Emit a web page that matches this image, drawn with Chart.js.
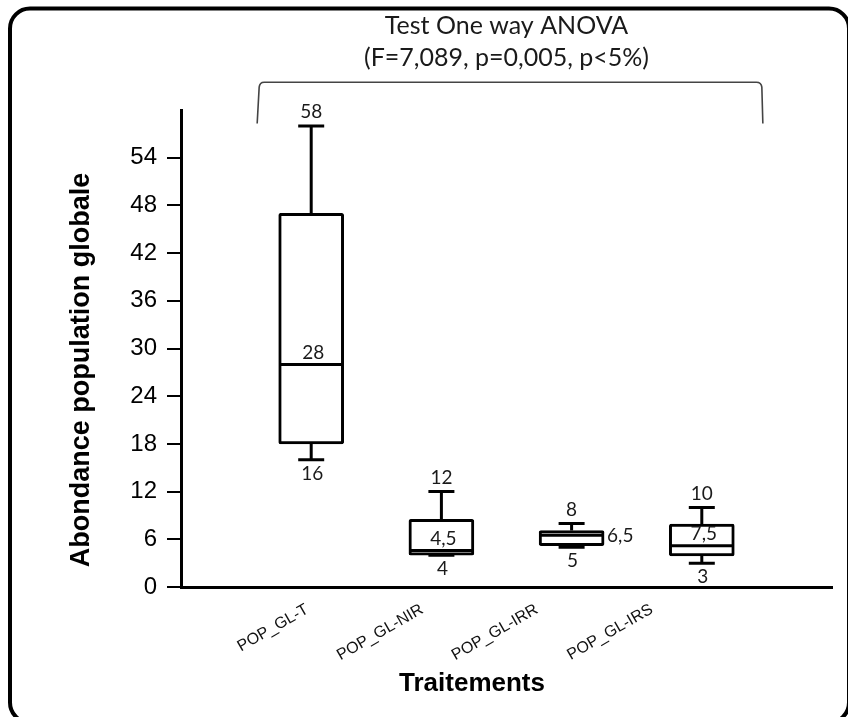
<!DOCTYPE html>
<html>
<head>
<meta charset="utf-8">
<style>
html,body{margin:0;padding:0;background:#fff;}
#wrap{width:848px;height:717px;position:relative;overflow:hidden;}
canvas{display:block;}
</style>
<script src="https://cdn.jsdelivr.net/npm/chart.js@4.4.1/dist/chart.umd.min.js"></script>
</head>
<body>
<div id="wrap"><canvas id="c" width="848" height="717"></canvas></div>
<script>
// ---- data ----
const categories = ['POP_GL-T', 'POP_GL-NIR', 'POP_GL-IRR', 'POP_GL-IRS'];
const minValues = [16, 4, 5, 3];
const q1Values = [18, 4, 5.2, 3.9];
const medianValues = [28, 4.6, 6.5, 5.2];
const q3Values = [47, 8.5, 7.1, 7.9];
const maxValues = [58, 12, 8, 10];
const maxLabels = ['58', '12', '8', '10'];
const medianLabels = ['28', '4,5', '6,5', '7,5'];
const minLabels = ['16', '4', '5', '3'];
const yTickValues = [0, 6, 12, 18, 24, 30, 36, 42, 48, 54];
const titleLines = ['Test One way ANOVA', '(F=7,089, p=0,005, p<5%)'];
const yAxisTitle = 'Abondance population globale';
const xAxisTitle = 'Traitements';

// ---- style ----
const medianLabelPlacement = ['above', 'above', 'right', 'above'];
const ARIAL = "'Liberation Sans', Arial, sans-serif";
const CALIBRI = "Lato, 'Open Sans', sans-serif";

const framePlugin = {
  id: 'frame',
  beforeDraw(chart) {
    const ctx = chart.ctx;
    ctx.save();
    ctx.fillStyle = '#fff';
    ctx.fillRect(0, 0, chart.width, chart.height);
    ctx.restore();
  },
  afterDraw(chart) {
    const ctx = chart.ctx;
    ctx.save();
    // rounded outer frame
    ctx.strokeStyle = '#000';
    ctx.lineWidth = 4;
    ctx.beginPath();
    ctx.roundRect(10, 8.5, 839, 714, 20);
    ctx.stroke();

    // bracket above the groups
    const xs = chart.scales.x, ys = chart.scales.y;
    const bl = xs.getPixelForValue(0.585), br = xs.getPixelForValue(4.465);
    const bt = ys.getPixelForValue(63.5), bb = ys.getPixelForValue(58.3);
    ctx.strokeStyle = '#444';
    ctx.lineWidth = 1.6;
    ctx.beginPath();
    ctx.moveTo(bl, bb);
    ctx.lineTo(bl + 2, bt + 5);
    ctx.quadraticCurveTo(bl + 2.5, bt, bl + 7, bt);
    ctx.lineTo(br - 6, bt);
    ctx.quadraticCurveTo(br - 1, bt, br - 0.5, bt + 5);
    ctx.lineTo(br + 0.5, bb);
    ctx.stroke();

    // axis titles
    ctx.fillStyle = '#000';
    ctx.font = "bold 27px " + ARIAL;
    ctx.textAlign = 'center';
    ctx.textBaseline = 'middle';
    ctx.save();
    ctx.translate(82, 370);
    ctx.rotate(-Math.PI / 2);
    ctx.fillText(yAxisTitle, 0, 0);
    ctx.restore();
    ctx.font = "bold 26px " + ARIAL;
    ctx.fillText(xAxisTitle, 472, 684);
    ctx.restore();
  }
};

const boxPlugin = {
  id: 'boxes',
  afterDatasetsDraw(chart) {
    const ctx = chart.ctx;
    const xs = chart.scales.x, ys = chart.scales.y;
    const cap = 13;
    ctx.save();
    ctx.strokeStyle = '#000';
    ctx.lineWidth = 3;
    ctx.lineCap = 'butt';
    categories.forEach((c, i) => {
      const cx = xs.getPixelForValue(i + 1);
      const pMax = ys.getPixelForValue(maxValues[i]);
      const pQ3 = ys.getPixelForValue(q3Values[i]);
      const pQ1 = ys.getPixelForValue(q1Values[i]);
      const pMin = ys.getPixelForValue(minValues[i]);
      const pMed = ys.getPixelForValue(medianValues[i]);
      ctx.beginPath();
      // upper whisker + cap
      ctx.moveTo(cx, pQ3); ctx.lineTo(cx, pMax);
      ctx.moveTo(cx - cap, pMax); ctx.lineTo(cx + cap, pMax);
      // lower whisker + cap
      if (pMin - pQ1 > 1) {
        ctx.moveTo(cx, pQ1); ctx.lineTo(cx, pMin);
      }
      ctx.moveTo(cx - cap, pMin); ctx.lineTo(cx + cap, pMin);
      ctx.stroke();
      // median
      const meta = chart.getDatasetMeta(0).data[i];
      const half = meta.width / 2 - 1.5;
      ctx.beginPath();
      ctx.moveTo(cx - half, pMed); ctx.lineTo(cx + half, pMed);
      ctx.stroke();

      // value labels
      ctx.fillStyle = '#1a1a1a';
      ctx.font = "19px " + CALIBRI;
      ctx.textAlign = 'center';
      ctx.textBaseline = 'middle';
      ctx.fillText(maxLabels[i], cx, pMax - 14);
      ctx.fillText(minLabels[i], cx + 1, pMin + 14);
      if (medianLabelPlacement[i] === 'right') {
        ctx.textAlign = 'left';
        ctx.fillText(medianLabels[i], cx + meta.width / 2 + 3, pMed + 1);
      } else {
        ctx.fillText(medianLabels[i], cx + 2, pMed - 12);
      }
    });
    ctx.restore();
  }
};

new Chart(document.getElementById('c'), {
  type: 'bar',
  data: {
    datasets: [{
      data: categories.map((c, i) => ({ x: i + 1, y: [q1Values[i], q3Values[i]] })),
      backgroundColor: '#fff',
      borderColor: '#000',
      borderWidth: 3,
      borderSkipped: false,
      borderRadius: 2,
      barThickness: 65
    }]
  },
  options: {
    responsive: false,
    animation: false,
    devicePixelRatio: 1,
    layout: { padding: { left: 0, right: 16, top: 0, bottom: 0 } },
    plugins: {
      legend: { display: false },
      tooltip: { enabled: false },
      title: {
        display: true,
        fullSize: false,
        text: titleLines,
        color: '#1a1a1a',
        font: { family: CALIBRI, size: 25, lineHeight: 1.28, weight: 'normal' },
        padding: { top: 10, bottom: 36 }
      }
    },
    scales: {
      x: {
        type: 'linear',
        position: 'bottom',
        min: 0, max: 5,
        offset: false,
        grid: { display: false, drawTicks: false },
        border: { display: true, color: '#000', width: 3 },
        ticks: { display: false },
        afterFit(s) { s.height = 0; }
      },
      x2: {
        type: 'linear',
        position: 'bottom',
        min: -0.1, max: 5.57,
        offset: false,
        grid: { display: false, drawTicks: false },
        border: { display: false },
        afterBuildTicks(s) { s.ticks = categories.map((c, i) => ({ value: i + 1 })); },
        ticks: {
          autoSkip: false,
          minRotation: 30,
          maxRotation: 30,
          padding: 13,
          color: '#111',
          font: { family: ARIAL, size: 16 },
          callback: (v) => categories[Math.round(v) - 1] || ''
        },
        afterFit(s) { s.height = 130; }
      },
      y: {
        type: 'linear',
        position: 'left',
        min: 0, max: 60,
        grid: { display: true, drawOnChartArea: false, drawTicks: true, tickLength: 14, color: '#000', lineWidth: 2 },
        border: { display: true, color: '#000', width: 3 },
        afterBuildTicks(s) { s.ticks = yTickValues.map(v => ({ value: v })); },
        ticks: {
          padding: 10,
          color: '#000',
          font: { family: ARIAL, size: 24 },
          callback: (v) => String(v)
        },
        afterFit(s) { s.width = 181; }
      }
    }
  },
  plugins: [framePlugin, boxPlugin]
});
</script>
</body>
</html>
